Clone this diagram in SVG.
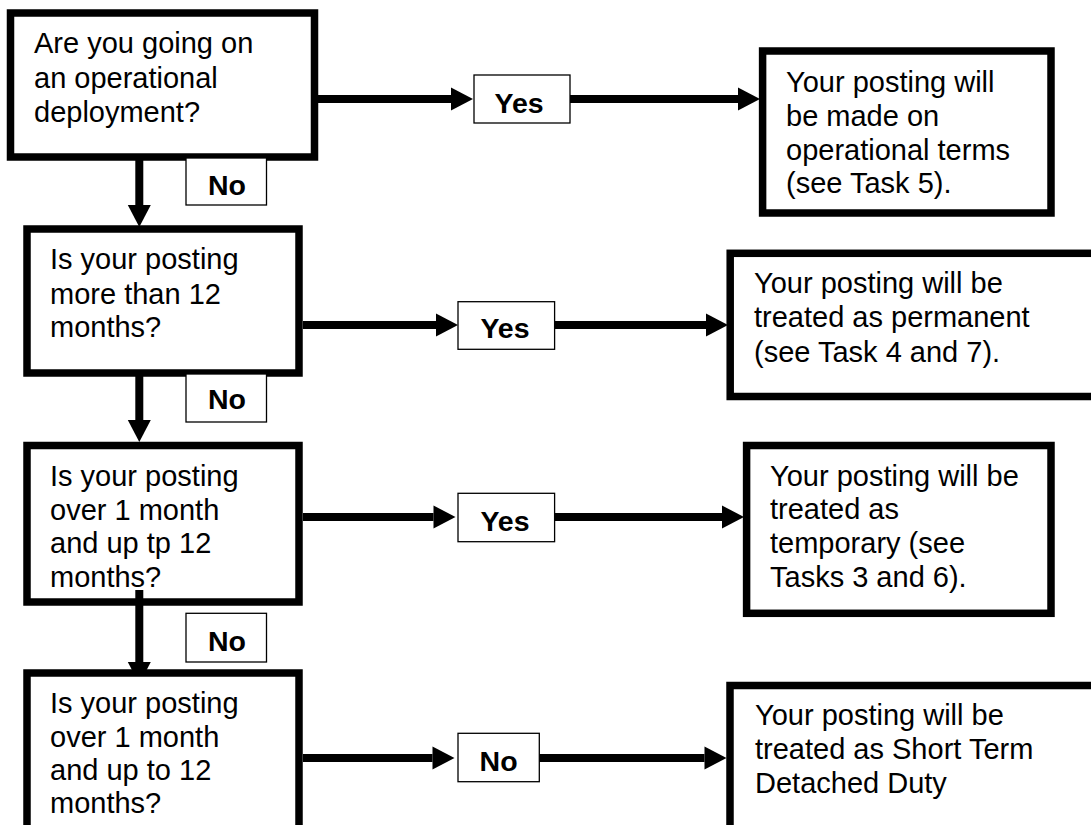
<svg xmlns="http://www.w3.org/2000/svg" width="1091" height="825" viewBox="0 0 1091 825">
<style>
.box{fill:#fff;stroke:#000;stroke-width:7.5}
.lbl{fill:#fff;stroke:#000;stroke-width:1.3}
.t{font-family:"Liberation Sans",Arial,sans-serif;font-size:29px;fill:#000}
.b{font-family:"Liberation Sans",Arial,sans-serif;font-size:28.5px;font-weight:bold;fill:#000}
.c{fill:none;stroke:#000;stroke-width:8}
</style>
<defs>
<marker id="ah" markerUnits="userSpaceOnUse" markerWidth="23" markerHeight="24" refX="0" refY="11.5" orient="auto" overflow="visible">
<path d="M0,0 L22,11.5 L0,23 Z" fill="#000"/>
</marker>
<clipPath id="cl1"><rect x="474" y="75" width="96" height="38"/></clipPath>
<clipPath id="cl2"><rect x="186" y="158" width="81" height="37"/></clipPath>
<clipPath id="cl3"><rect x="458" y="302" width="97" height="36"/></clipPath>
<clipPath id="cl4"><rect x="186" y="374" width="81" height="35"/></clipPath>
<clipPath id="cl5"><rect x="458" y="493" width="97" height="38"/></clipPath>
<clipPath id="cl6"><rect x="186" y="613" width="81" height="38"/></clipPath>
<clipPath id="cl7"><rect x="458" y="733" width="82" height="38"/></clipPath>
</defs>
<rect width="1091" height="825" fill="#fff"/>

<g id="q1">
<rect class="box" x="10.5" y="13" width="304" height="144"/>
<text class="t" x="34" y="53">Are you going on</text>
<text class="t" x="34" y="88">an operational</text>
<text class="t" x="34" y="122">deployment?</text>
</g>
<g id="q2">
<rect class="box" x="27" y="229" width="272" height="144"/>
<text class="t" x="50" y="269">Is your posting</text>
<text class="t" x="50" y="304">more than 12</text>
<text class="t" x="50" y="337">months?</text>
</g>
<g id="q3">
<rect class="box" x="27" y="445.5" width="272" height="156.5"/>
<text class="t" x="50" y="486">Is your posting</text>
<text class="t" x="50" y="520">over 1 month</text>
<text class="t" x="50" y="553">and up tp 12</text>
<text class="t" x="50" y="587">months?</text>
</g>

<g id="connectors">
<path class="c" d="M318,99 H451" marker-end="url(#ah)"/>
<path class="c" d="M570,99 H738" marker-end="url(#ah)"/>
<path class="c" d="M303,325 H436" marker-end="url(#ah)"/>
<path class="c" d="M555,325 H706" marker-end="url(#ah)"/>
<path class="c" d="M303,517 H433.5" marker-end="url(#ah)"/>
<path class="c" d="M555,517 H722" marker-end="url(#ah)"/>
<path class="c" d="M303,758 H432.5" marker-end="url(#ah)"/>
<path class="c" d="M539,758 H704.5" marker-end="url(#ah)"/>
<path class="c" d="M139.3,160 V205" marker-end="url(#ah)"/>
<path class="c" d="M139.3,376 V420" marker-end="url(#ah)"/>
<path class="c" d="M139.3,590 V662" marker-end="url(#ah)"/>
</g>

<g id="q4">
<rect class="box" x="27" y="673" width="272" height="200"/>
<text class="t" x="50" y="713">Is your posting</text>
<text class="t" x="50" y="747">over 1 month</text>
<text class="t" x="50" y="780">and up to 12</text>
<text class="t" x="50" y="813">months?</text>
</g>

<g id="r1">
<rect class="box" x="762.6" y="51" width="288.4" height="162"/>
<text class="t" x="786" y="92">Your posting will</text>
<text class="t" x="786" y="126">be made on</text>
<text class="t" x="786" y="160">operational terms</text>
<text class="t" x="786" y="193">(see Task 5).</text>
</g>
<g id="r2">
<rect class="box" x="730.2" y="253.3" width="420" height="143.2"/>
<text class="t" x="754" y="293">Your posting will be</text>
<text class="t" x="754" y="327">treated as permanent</text>
<text class="t" x="754" y="362">(see Task 4 and 7).</text>
</g>
<g id="r3">
<rect class="box" x="746.6" y="445.5" width="304.4" height="167.8"/>
<text class="t" x="770" y="486">Your posting will be</text>
<text class="t" x="770" y="519">treated as</text>
<text class="t" x="770" y="553">temporary (see</text>
<text class="t" x="770" y="587">Tasks 3 and 6).</text>
</g>
<g id="r4">
<rect class="box" x="730" y="685.5" width="420" height="200"/>
<text class="t" x="755" y="725">Your posting will be</text>
<text class="t" x="755" y="759">treated as Short Term</text>
<text class="t" x="755" y="793">Detached Duty</text>
</g>

<g id="yes1">
<rect class="lbl" x="474" y="75" width="96" height="48"/>
<text class="b" x="494.5" y="112.5" clip-path="url(#cl1)">Yes</text>
</g>
<g id="no1">
<rect class="lbl" x="186" y="158" width="80.5" height="47"/>
<text class="b" x="208" y="195" clip-path="url(#cl2)">No</text>
</g>
<g id="yes2">
<rect class="lbl" x="458" y="301.7" width="96.6" height="47.6"/>
<text class="b" x="480.4" y="337.5" clip-path="url(#cl3)">Yes</text>
</g>
<g id="no2">
<rect class="lbl" x="186" y="374" width="80.5" height="48"/>
<text class="b" x="208" y="409" clip-path="url(#cl4)">No</text>
</g>
<g id="yes3">
<rect class="lbl" x="458" y="493.3" width="96.6" height="48.4"/>
<text class="b" x="480.4" y="530.5" clip-path="url(#cl5)">Yes</text>
</g>
<g id="no3">
<rect class="lbl" x="186" y="613.3" width="80.5" height="48.7"/>
<text class="b" x="208" y="650.5" clip-path="url(#cl6)">No</text>
</g>
<g id="no4">
<rect class="lbl" x="458" y="733.3" width="81.3" height="48.4"/>
<text class="b" x="479.6" y="770.5" clip-path="url(#cl7)">No</text>
</g>
</svg>
